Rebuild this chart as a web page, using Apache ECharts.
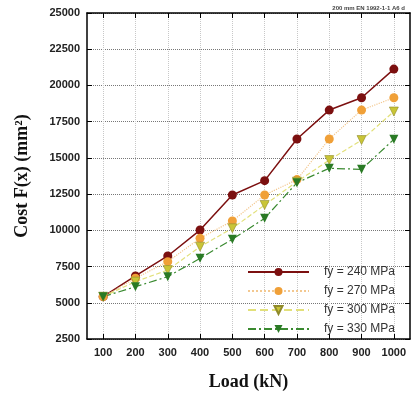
<!DOCTYPE html>
<html>
<head>
<meta charset="utf-8">
<script src="https://cdn.jsdelivr.net/npm/echarts@6/dist/echarts.min.js"></script>
<style>
  html, body { margin: 0; padding: 0; background: #fff; }
  #chart { width: 413px; height: 399px; }
</style>
</head>
<body>
<div id="chart"></div>
<script>
// Load (kN)
const loads = [100, 200, 300, 400, 500, 600, 700, 800, 900, 1000];
const yTicks = [2500, 5000, 7500, 10000, 12500, 15000, 17500, 20000, 22500, 25000];

// Cost F(x) (mm2) for each yield strength
const cost240 = [5420, 6850, 8230, 10020, 12440, 13430, 16300, 18300, 19150, 21130];
const cost270 = [5420, 6690, 7840, 9450, 10650, 12440, 13500, 16300, 18300, 19150];
const cost300 = [5420, 6460, 7260, 8870, 10140, 11750, 13360, 14850, 16230, 18200];
const cost330 = [5420, 6110, 6800, 8070, 9380, 10830, 13290, 14280, 14210, 16280];

const seriesNames = ['fy = 240 MPa', 'fy = 270 MPa', 'fy = 300 MPa', 'fy = 330 MPa'];

const toPoints = (values) => values.map((v, i) => [loads[i], v]);

const chart = echarts.init(document.getElementById('chart'));

const labelFont = {
  fontFamily: 'Liberation Sans, Arial, sans-serif',
  fontWeight: 'bold',
  fontSize: 11,
  color: '#222',
  formatter: (v) => String(v)
};

const xBase = {
  type: 'value',
  min: 50,
  max: 1050,
  axisLine: { show: true, onZero: false, lineStyle: { color: '#000', width: 1.5 } },
  axisTick: { show: true, inside: true, length: 5, customValues: loads, lineStyle: { color: '#000' } },
  axisLabel: { show: true, customValues: loads, margin: 8, ...labelFont },
  splitLine: { show: true, lineStyle: { color: '#c8c8c8', type: 'dotted', width: 1 } }
};

const yBase = {
  type: 'value',
  min: yTicks[0],
  max: yTicks[yTicks.length - 1],
  interval: 2500,
  axisLine: { show: true, onZero: false, lineStyle: { color: '#000', width: 1.5 } },
  axisTick: { show: true, inside: true, length: 5, lineStyle: { color: '#000' } },
  axisLabel: { show: true, margin: 7, ...labelFont },
  splitLine: { show: true, lineStyle: { color: '#777', type: 'dotted', width: 1 } }
};

const option = {
  animation: false,
  backgroundColor: '#fff',
  grid: { left: 87, right: 3, top: 13, bottom: 60 },
  xAxis: [
    {
      ...xBase,
      position: 'bottom',
      name: 'Load (kN)',
      nameLocation: 'middle',
      nameGap: 34,
      nameTextStyle: { fontFamily: 'Liberation Serif, Times New Roman, serif', fontWeight: 'bold', fontSize: 18, color: '#111' }
    },
    {
      ...xBase,
      position: 'top',
      axisLabel: { show: false },
      splitLine: { show: false }
    }
  ],
  yAxis: [
    {
      ...yBase,
      position: 'left',
      name: 'Cost F(x) (mm²)',
      nameLocation: 'middle',
      nameGap: 56,
      nameRotate: 90,
      nameTextStyle: { fontFamily: 'Liberation Serif, Times New Roman, serif', fontWeight: 'bold', fontSize: 18, color: '#111' }
    },
    {
      ...yBase,
      position: 'right',
      axisLabel: { show: false },
      splitLine: { show: false }
    }
  ],
  legend: {
    orient: 'vertical',
    left: 242,
    top: 261,
    itemWidth: 61,
    itemHeight: 10,
    itemGap: 7,
    selectedMode: false,
    textStyle: {
      fontFamily: 'Liberation Sans, Arial, sans-serif',
      fontSize: 12,
      color: '#333',
      padding: [0, 0, 0, 10]
    },
    data: seriesNames
  },
  graphic: [
    {
      type: 'text',
      right: 8,
      top: 5,
      style: {
        text: '200 mm EN 1992-1-1 A6 d',
        fontSize: 6,
        fontWeight: 'bold',
        fontFamily: 'Liberation Sans, Arial, sans-serif',
        fill: '#444'
      }
    }
  ],
  series: [
    {
      name: seriesNames[0],
      type: 'line',
      data: toPoints(cost240),
      symbol: 'circle',
      symbolSize: 9,
      itemStyle: { color: '#7c1010' },
      lineStyle: { color: '#7c1010', width: 1.5, type: 'solid' }
    },
    {
      name: seriesNames[1],
      type: 'line',
      data: toPoints(cost270),
      symbol: 'circle',
      symbolSize: 9,
      itemStyle: { color: '#f0a038' },
      lineStyle: { color: '#f3c890', width: 1.2, type: 'dotted' }
    },
    {
      name: seriesNames[2],
      type: 'line',
      data: toPoints(cost300),
      symbol: 'triangle',
      symbolRotate: 180,
      symbolSize: 9,
      itemStyle: { color: '#c9c536', borderColor: '#8f8a2a', borderWidth: 0.6 },
      lineStyle: { color: '#e2e07a', width: 1.2, type: 'dashed' }
    },
    {
      name: seriesNames[3],
      type: 'line',
      data: toPoints(cost330),
      symbol: 'triangle',
      symbolRotate: 180,
      symbolSize: 9,
      itemStyle: { color: '#2a7a25' },
      lineStyle: { color: '#3a8a30', width: 1.2, type: [8, 3, 2, 3] }
    }
  ]
};

chart.setOption(option);
</script>
</body>
</html>
